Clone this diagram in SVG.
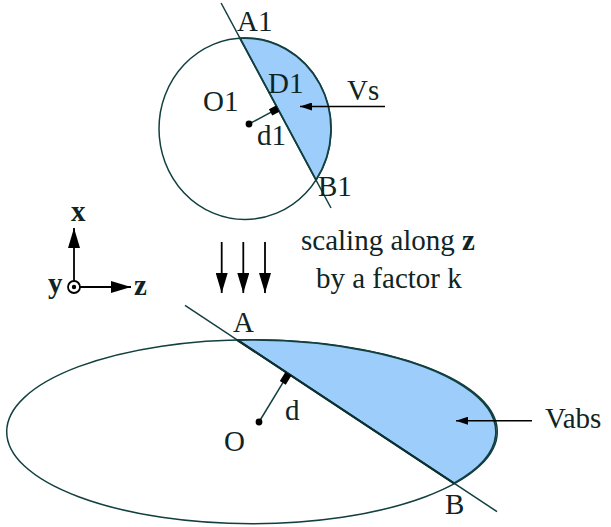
<svg xmlns="http://www.w3.org/2000/svg" width="611" height="527" viewBox="0 0 611 527">
<style>
  text { font-family: "Liberation Serif", "Times New Roman", serif; font-size: 29px; fill: #0f2424; }
  .bold { font-weight: bold; }
  .ln { fill: none; stroke: #123f3f; stroke-width: 1.5; }
  .thick { fill: none; stroke: #0d3030; stroke-width: 2.2; }
  .seg { fill: #9ccdfb; stroke: #123f3f; stroke-width: 1.8; }
  .mark { stroke: #000; stroke-width: 7; }
  .dot { fill: #000; }
</style>
<defs>
  <marker id="ahs" markerUnits="userSpaceOnUse" markerWidth="12" markerHeight="8" refX="12" refY="4" orient="auto">
    <path d="M0,0 L12,4 L0,8 z" fill="#000"/>
  </marker>
  <marker id="ahb" markerUnits="userSpaceOnUse" markerWidth="20" markerHeight="12" refX="20" refY="6" orient="auto">
    <path d="M0,0 L20,6 L0,12 z" fill="#000"/>
  </marker>
</defs>
<rect width="611" height="527" fill="#fff"/>

<g id="circle-node">
  <ellipse class="ln" cx="245" cy="128.75" rx="86" ry="90.75"/>
  <path class="seg" d="M240,38.2 L316,180 A86,90.75 0 0 0 240,38.2 Z"/>
  <line class="ln" x1="221.1" y1="3" x2="331" y2="208"/>
  <line class="ln" x1="249" y1="124" x2="277.7" y2="108.6"/>
  <line class="mark" x1="277.7" y1="108.6" x2="270.6" y2="112.4"/>
  <circle class="dot" cx="249" cy="124" r="3.4"/>
  <text x="237" y="31">A1</text>
  <text x="268" y="93">D1</text>
  <text x="203" y="111">O1</text>
  <text x="257" y="145">d1</text>
  <text x="318" y="196">B1</text>
  <text x="347" y="100">Vs</text>
</g>

<g id="axes-node">
  <circle cx="74" cy="287" r="6" fill="none" stroke="#000" stroke-width="1.8"/>
  <circle class="dot" cx="74" cy="287" r="2.2"/>
  <text class="bold" x="71" y="221">x</text>
  <text class="bold" x="48" y="293">y</text>
  <text class="bold" x="134" y="295">z</text>
</g>

<g id="scaling-label">
  <text x="301" y="250">scaling along <tspan class="bold">z</tspan></text>
  <text x="316" y="288">by a factor k</text>
</g>

<g id="ellipse-node">
  <ellipse class="ln" cx="252" cy="431.7" rx="245.3" ry="92"/>
  <path class="seg" d="M237.3,340 L454,483.3 A245.3,92 0 0 0 237.3,340 Z"/>
  <line class="ln" x1="185" y1="305.4" x2="497" y2="511.6"/>
  <line class="thick" x1="237.3" y1="340" x2="454" y2="483.3"/>
  <line class="ln" x1="259" y1="422" x2="288.4" y2="373.7"/>
  <line class="mark" x1="288.4" y1="373.7" x2="282.8" y2="382.9"/>
  <circle class="dot" cx="259" cy="422" r="3.4"/>
  <text x="233" y="332">A</text>
  <text x="224" y="451">O</text>
  <text x="285" y="420">d</text>
  <text x="445" y="514">B</text>
  <text x="545" y="428">Vabs</text>
</g>

<g id="connectors" stroke="#000" stroke-width="1.8" fill="none">
  <line x1="74" y1="281" x2="74" y2="228" marker-end="url(#ahb)"/>
  <line x1="80" y1="287" x2="131" y2="287" marker-end="url(#ahb)"/>
  <line x1="221.7" y1="242" x2="221.7" y2="293" marker-end="url(#ahb)"/>
  <line x1="243.3" y1="242" x2="243.3" y2="293" marker-end="url(#ahb)"/>
  <line x1="265" y1="242" x2="265" y2="293" marker-end="url(#ahb)"/>
  <line x1="385" y1="106.5" x2="300" y2="106.5" stroke-width="1.5" marker-end="url(#ahs)"/>
  <line x1="532" y1="420.7" x2="456" y2="420.7" stroke-width="1.5" marker-end="url(#ahs)"/>
</g>
</svg>
